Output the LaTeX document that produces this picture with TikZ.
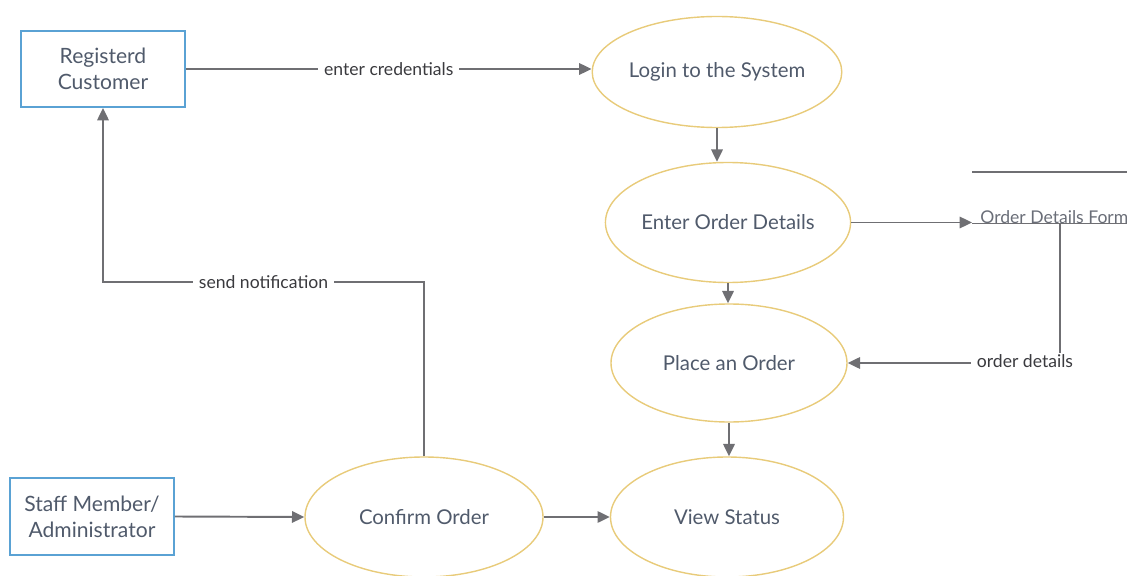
\documentclass[tikz,border=0pt]{standalone}
\usepackage{fontspec}
\setmainfont{Lato}
\usetikzlibrary{arrows.meta,shapes.geometric}

\definecolor{boxblue}{HTML}{5AA2D4}
\definecolor{ovgold}{HTML}{E8CB7A}
\definecolor{linegray}{HTML}{6F6F73}
\definecolor{nodetext}{HTML}{505A6B}
\definecolor{lbltext}{HTML}{3A3A3E}
\definecolor{storetext}{HTML}{6A6E78}

\tikzset{
  actor/.style={draw=boxblue, line width=1.1pt, minimum width=3.28cm, minimum height=1.52cm,
    align=center, text=nodetext, font=\fontsize{12}{15}\selectfont},
  proc/.style={ellipse, draw=ovgold, line width=0.8pt, inner sep=0pt, minimum width=4.76cm,
    minimum height=2.4cm, text=nodetext, font=\fontsize{11.6}{14}\selectfont},
  flow/.style={draw=linegray, line width=1.1pt, -{Triangle[length=7pt,width=6.5pt]}},
  lbl/.style={fill=white, text=lbltext, inner xsep=3.5pt, inner ysep=1pt, font=\fontsize{10}{12}\selectfont}
}

\begin{document}
\begin{tikzpicture}
      \useasboundingbox (0,0) rectangle (22.54,-11.52);
      \node (A) at (2.06,-1.38)[actor]{Registerd\\Customer};
      \node (B) at (1.84,-10.33)[actor, minimum height=1.54cm]{Staff Member/\\Administrator};
      \node (C) at (14.34,-1.44)[proc, minimum width=4.8cm, minimum height=2.22cm]{Login to the System};
      \node (D) at (14.56,-4.45)[proc, minimum width=4.84cm]{Enter Order Details};
      \node (E) at (14.58,-7.26)[proc, minimum width=4.72cm, minimum height=2.36cm]{Place an Order};
      \node (F) at (14.54,-10.34)[proc, minimum width=4.66cm]{View Status};
      \node (G) at (8.48,-10.34)[proc]{Confirm Order};
      % data store
      \coordinate (S1) at (19.44,-3.44);
      \coordinate (S2) at (19.44,-4.47);
      \coordinate (S3) at (21.2,-4.47);
      \coordinate (N) at (2.06,-5.64);
      \draw[linegray, line width=0.9pt] (S1) -- (22.54,-3.44);
      \node (H) at (19.6,-4.46)[anchor=base west, inner sep=0pt, text=storetext,
        font=\fontsize{10}{12}\selectfont]{Order Details Form};
      \draw[linegray, line width=0.9pt] (S2) -- (22.54,-4.47);
      % flows
      \draw[flow] (A.east) -- node[lbl]{enter credentials} (A.east -| C.west);
      \foreach \a/\b in {C/D, D/E, E/F}{
      \draw[flow] (\a.south) -- (\a.south |- \b.north);
      }
      \draw[flow] (D.east) -- (D.east -| S2);
      \draw[flow] (S3) |- (E.east);
      \node (I) at (20.5,-7.22)[lbl]{order details};
      \draw[flow] (G.north) |- node[lbl, pos=0.75]{send notification} (N) -- (A.south);
      \draw[flow] (B.east) -- (G.west);
      \draw[flow] (G.east) -- (F.west);
  \end{tikzpicture}
\end{document}
